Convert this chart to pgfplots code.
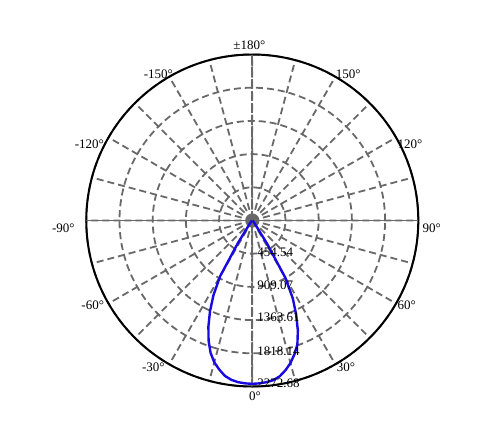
\documentclass[border=0pt]{standalone}
\usepackage{fontspec}
\setmainfont{Liberation Serif}
\usepackage{pgfplots}
\usepgfplotslibrary{polar}
\pgfplotsset{compat=1.18}
\definecolor{gridgray}{RGB}{105,105,105}
\definecolor{curveblue}{RGB}{25,10,225}
\pgfplotstableread{
a r
180 5
210 12
220 20
230 40
235 110
237.5 370
240 880
242.5 1150
245 1370
247.5 1570
250 1750
252.5 1900
255 2010
257.5 2090
260 2160
262.5 2200
265 2222
267.5 2232
270 2236
272.5 2232
275 2222
277.5 2205
280 2165
282.5 2100
285 2020
287.5 1920
290 1805
292.5 1630
295 1420
297.5 1200
300 900
302.5 380
305 110
310 40
320 20
330 12
360 5
}\curvedata
\begin{document}
\begin{tikzpicture}
\useasboundingbox (-252.3bp,-210.5bp) rectangle (242.7bp,220.5bp);
\begin{polaraxis}[
  at={(0,0)}, anchor=center, scale only axis,
  width=332bp, height=332bp,
  xmin=0, xmax=360, ymin=0, ymax=2272.68,
  xtick={0,15,...,345},
  ytick={454.54,909.07,1363.61,1818.14,2272.68},
  xticklabel=\empty, yticklabel=\empty,
  major tick length=0pt,
  grid=major,
  major grid style={gridgray, line width=1.8bp, dash pattern=on 7bp off 4bp},
  axis line style={black, line width=2bp},
  y axis line style={draw=none},
]
\addplot[gridgray, line width=1.8bp, mark=none] coordinates {(0,2272.68) (180,2272.68)};
\addplot[gridgray, line width=1.8bp, mark=none, dash pattern=on 10bp off 2bp] coordinates {(90,2272.68) (270,2272.68)};
\addplot[curveblue, line width=2.4bp, line join=round, mark=none] table[x=a, y=r] {\curvedata};
\end{polaraxis}
\begin{scope}[every node/.style={font=\fontsize{13bp}{15bp}\selectfont, inner sep=0pt}]
\node at (-3bp,175.5bp) {±180°};
\node at (-94bp,146.2bp) {-150°};
\node at (96bp,146.2bp) {150°};
\node at (-163bp,76.5bp) {-120°};
\node at (157.7bp,76.5bp) {120°};
\node at (-189bp,-7.8bp) {-90°};
\node at (179.4bp,-7.8bp) {90°};
\node at (-159.6bp,-85.2bp) {-60°};
\node at (154.4bp,-85.2bp) {60°};
\node at (-99bp,-147.2bp) {-30°};
\node at (93.7bp,-147.2bp) {30°};
\node at (2.7bp,-176.2bp) {0°};
\node[anchor=west] at (5bp,-31.8bp) {454.54};
\node[anchor=west] at (5bp,-65.2bp) {909.07};
\node[anchor=west] at (5bp,-97.2bp) {1363.61};
\node[anchor=west] at (5bp,-130.5bp) {1818.14};
\node[anchor=west] at (5bp,-162.8bp) {2272.68};
\end{scope}
\end{tikzpicture}
\end{document}
